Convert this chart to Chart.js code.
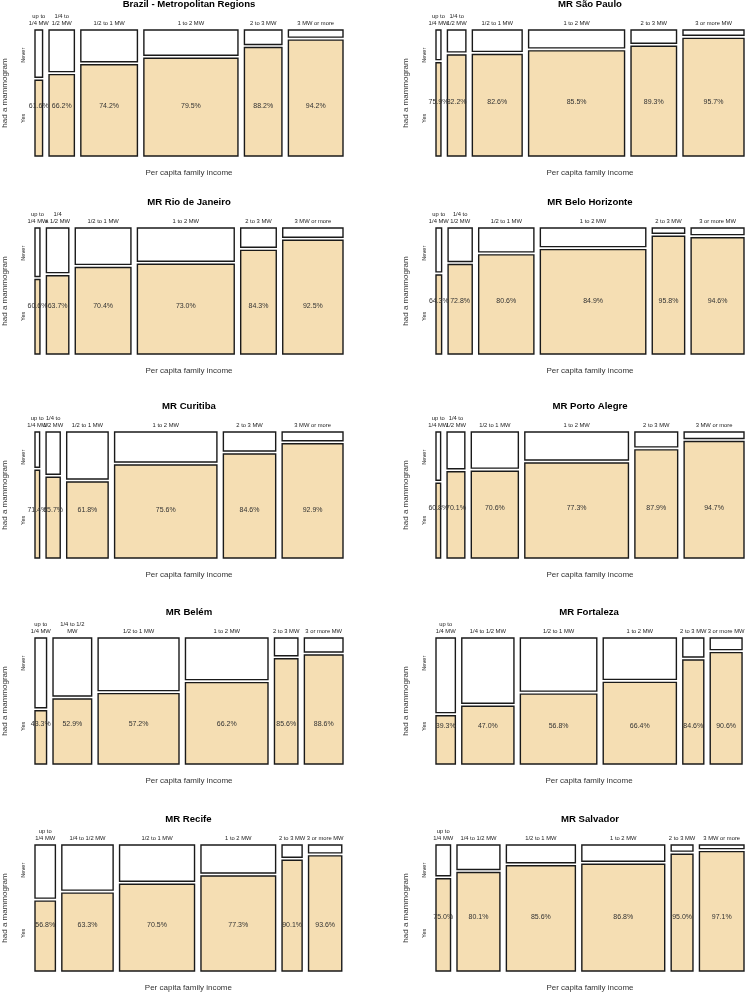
<!DOCTYPE html>
<html>
<head>
<meta charset="utf-8">
<script src="https://cdn.jsdelivr.net/npm/chart.js@4.4.1/dist/chart.umd.min.js"></script>
<style>
  html, body { margin: 0; padding: 0; background: #fff; overflow: hidden; }
  body { width: 748px; height: 992px; position: relative; }
  canvas { position: absolute; }
</style>
</head>
<body>
<script>
// Panel titles, in reading order (left to right, top to bottom)
const titles = [
    'Brazil - Metropolitan Regions', 'MR São Paulo',
    'MR Rio de Janeiro', 'MR Belo Horizonte',
    'MR Curitiba', 'MR Porto Alegre',
    'MR Belém', 'MR Fortaleza',
    'MR Recife', 'MR Salvador'
];

// % of women who ever had a mammogram, per income class
const yesPct = [
    [61.6, 66.2, 74.2, 79.5, 88.2, 94.2],
    [75.9, 82.2, 82.6, 85.5, 89.3, 95.7],
    [60.6, 63.7, 70.4, 73.0, 84.3, 92.5],
    [64.3, 72.8, 80.6, 84.9, 95.8, 94.6],
    [71.4, 65.7, 61.8, 75.6, 84.6, 92.9],
    [60.8, 70.1, 70.6, 77.3, 87.9, 94.7],
    [43.3, 52.9, 57.2, 66.2, 85.6, 88.6],
    [39.3, 47.0, 56.8, 66.4, 84.6, 90.6],
    [56.8, 63.3, 70.5, 77.3, 90.1, 93.6],
    [75.0, 80.1, 85.6, 86.8, 95.0, 97.1]
];

// relative sample size of each income class (column widths of the mosaic)
const sampleShare = [
    [23, 77, 172, 286, 114, 166],
    [15, 56, 151, 291, 138, 185],
    [15, 68, 169, 294, 108, 183],
    [17, 73, 167, 319, 98, 160],
    [14, 43, 126, 311, 159, 185],
    [14, 54, 143, 315, 130, 182],
    [35, 117, 245, 250, 71, 117],
    [59, 159, 233, 223, 64, 97],
    [62, 156, 228, 227, 61, 101],
    [44, 130, 209, 251, 66, 135]
];

// income class labels as printed on each panel
const classLabels = [
    [['up to', '1/4 MW'], ['1/4 to', '1/2 MW'], '1/2 to 1 MW', '1 to 2 MW', '2 to 3 MW', '3 MW or more'],
    [['up to', '1/4 MW'], ['1/4 to', '1/2 MW'], '1/2 to 1 MW', '1 to 2 MW', '2 to 3 MW', '3 or more MW'],
    [['up to', '1/4 MW'], ['1/4', 'a 1/2 MW'], '1/2 to 1 MW', '1 to 2 MW', '2 to 3 MW', '3 MW or more'],
    [['up to', '1/4 MW'], ['1/4 to', '1/2 MW'], '1/2 to 1 MW', '1 to 2 MW', '2 to 3 MW', '3 or more MW'],
    [['up to', '1/4 MW'], ['1/4 to', '1/2 MW'], '1/2 to 1 MW', '1 to 2 MW', '2 to 3 MW', '3 MW or more'],
    [['up to', '1/4 MW'], ['1/4 to', '1/2 MW'], '1/2 to 1 MW', '1 to 2 MW', '2 to 3 MW', '3 MW or more'],
    [['up to', '1/4 MW'], ['1/4 to 1/2', 'MW'], '1/2 to 1 MW', '1 to 2 MW', '2 to 3 MW', '3 or more MW'],
    [['up to', '1/4 MW'], '1/4 to 1/2 MW', '1/2 to 1 MW', '1 to 2 MW', '2 to 3 MW', '3 or more MW'],
    [['up to', '1/4 MW'], '1/4 to 1/2 MW', '1/2 to 1 MW', '1 to 2 MW', '2 to 3 MW', '3 or more MW'],
    [['up to', '1/4 MW'], '1/4 to 1/2 MW', '1/2 to 1 MW', '1 to 2 MW', '2 to 3 MW', '3 MW or more']
];

const answerLabels = ['Never', 'Yes'];

const FONT = '"Liberation Sans", Arial, sans-serif';
const YES_COLOR = '#F5DEB3';
const NEVER_COLOR = '#FFFFFF';
const EDGE = '#1a1a1a';
const GAP_X = 0.021;   // gap between columns, share of axis
const GAP_Y = 0.024;   // gap between Never / Yes boxes

const PANEL_W = 374, PANEL_H = 206;
const colLeft = [-27, 374];
const rowTop = [-15, 183, 387, 593, 800];

function layoutColumns(widths) {
    const total = widths.reduce((a, b) => a + b, 0);
    const usable = 1 - GAP_X * (widths.length - 1);
    let x = 0;
    return widths.map(w => {
        const width = usable * w / total;
        const col = { x0: x, x1: x + width, mid: x + width / 2 };
        x += width + GAP_X;
        return col;
    });
}

function rect(x0, x1, y0, y1, fill) {
    return {
        data: [{x: x0, y: y0}, {x: x1, y: y0}, {x: x1, y: y1}, {x: x0, y: y1}, {x: x0, y: y0}],
        backgroundColor: fill,
        borderColor: EDGE,
        borderWidth: 1.4,
        borderJoinStyle: 'miter',
        borderCapStyle: 'square',
        fill: 'shape',
        pointRadius: 0,
        tension: 0,
        clip: false
    };
}

// writes the percentage inside each column
const pctLabels = {
    id: 'pctLabels',
    afterDatasetsDraw(chart, args, opts) {
        const {ctx, scales: {x, y}} = chart;
        ctx.save();
        ctx.font = '7px ' + FONT;
        ctx.fillStyle = '#333';
        ctx.textAlign = 'center';
        ctx.textBaseline = 'middle';
        const yPix = y.getPixelForValue(opts.level);
        opts.cols.forEach((c, k) => {
            ctx.fillText(opts.values[k].toFixed(1) + '%', x.getPixelForValue(c.mid), yPix);
        });
        ctx.restore();
    }
};

function buildPanel(i) {
    const canvas = document.createElement('canvas');
    canvas.width = PANEL_W;
    canvas.height = PANEL_H;
    canvas.style.left = colLeft[i % 2] + 'px';
    canvas.style.top = rowTop[Math.floor(i / 2)] + 'px';
    document.body.appendChild(canvas);

    const cols = layoutColumns(sampleShare[i]);
    const p = yesPct[i];
    const datasets = [];
    cols.forEach((c, k) => {
        const yesTop = p[k] / 100 * (1 - GAP_Y);
        datasets.push(rect(c.x0, c.x1, 0, yesTop, YES_COLOR));
        datasets.push(rect(c.x0, c.x1, yesTop + GAP_Y, 1, NEVER_COLOR));
    });

    const wsum = sampleShare[i].reduce((a, b) => a + b, 0);
    const overall = sampleShare[i].reduce((a, w, k) => a + w * p[k], 0) / wsum / 100 * (1 - GAP_Y);

    new Chart(canvas, {
        type: 'line',
        data: { datasets },
        options: {
            responsive: false,
            animation: false,
            events: [],
            layout: { padding: { top: 0, right: 4, bottom: 0, left: 0 } },
            plugins: {
                legend: { display: false },
                tooltip: { enabled: false },
                title: {
                    display: true,
                    text: titles[i],
                    fullSize: false,
                    color: '#000',
                    font: { family: FONT, size: 9.6, weight: 'bold' },
                    padding: { top: 14, bottom: 0 }
                },
                pctLabels: { cols, values: p, level: overall / 2 }
            },
            scales: {
                x: {
                    type: 'linear', position: 'top', min: 0, max: 1,
                    grid: { display: false, drawTicks: false },
                    border: { display: false },
                    afterBuildTicks: s => { s.ticks = cols.map(c => ({ value: c.mid })); },
                    afterFit: s => { s.height = 19.5; },
                    ticks: {
                        autoSkip: false, minRotation: 0, maxRotation: 0, padding: 3.2,
                        color: '#222', font: { family: FONT, size: 5.8 },
                        callback: (v, k) => classLabels[i][k]
                    }
                },
                x2: {
                    type: 'linear', position: 'bottom', min: 0, max: 1,
                    grid: { display: false, drawTicks: false },
                    border: { display: false },
                    ticks: { display: false },
                    afterFit: s => { s.height = 35; },
                    title: {
                        display: true, text: 'Per capita family income', color: '#333',
                        font: { family: FONT, size: 8 }, padding: { top: 0, bottom: 13.6 }
                    }
                },
                y: {
                    type: 'linear', position: 'left', min: 0, max: 1,
                    grid: { display: false, drawTicks: false },
                    border: { display: false },
                    afterBuildTicks: s => { s.ticks = [{ value: 0.8 }, { value: 0.3 }]; },
                    afterFit: s => { s.width = 62; },
                    ticks: {
                        minRotation: 90, maxRotation: 90, crossAlign: 'center', padding: 4.5,
                        color: '#222', font: { family: FONT, size: 5.6 },
                        callback: (v, k) => answerLabels[k]
                    },
                    title: {
                        display: true, text: 'had a mammogram', color: '#333',
                        font: { family: FONT, size: 8 }, padding: { top: 26.6, bottom: 0 }
                    }
                }
            }
        },
        plugins: [pctLabels]
    });
}

titles.forEach((t, i) => buildPanel(i));
</script>
</body>
</html>
